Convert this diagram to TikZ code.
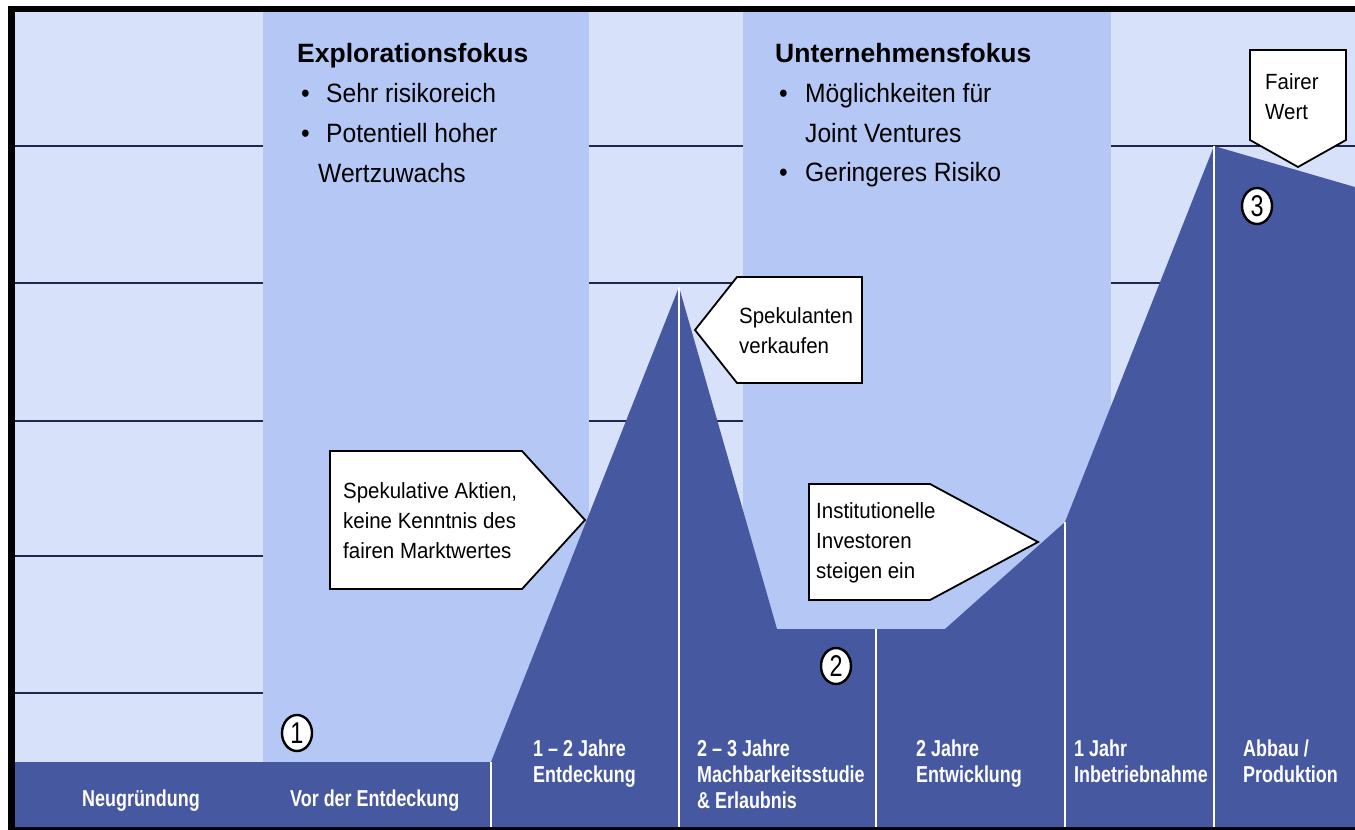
\documentclass[tikz,border=0pt]{standalone}
\usepackage{fontspec}
\setmainfont{Liberation Sans}
\newfontfamily\narrowfont[FakeStretch=0.78]{Liberation Sans}
\newfontfamily\slimfont[FakeStretch=0.93]{Liberation Sans}
\usetikzlibrary{shapes.geometric}
\definecolor{paleblue}{HTML}{D7E1FA}
\definecolor{focusblue}{HTML}{B4C7F5}
\definecolor{hillblue}{HTML}{4658A0}
\definecolor{gridnavy}{HTML}{22264A}

\begin{document}
\begin{tikzpicture}[x=1pt,y=-1pt,
 head/.style={anchor=base west,inner sep=0pt,font=\fontsize{26.5}{30}\selectfont\bfseries},
 bullet/.style={anchor=base west,inner sep=0pt,font=\slimfont\fontsize{26.5}{30}\selectfont},
 phase/.style={anchor=base west,inner sep=0pt,text=white,font=\narrowfont\fontsize{23}{26}\selectfont\bfseries},
 callout/.style={draw=black,line width=1.8pt,fill=white,line join=miter},
 calltext/.style={anchor=west,align=left,inner sep=0pt,font=\slimfont\fontsize{22}{30}\selectfont},
 marker/.style={ellipse,draw=black,line width=2.4pt,fill=white,inner sep=0pt,
   minimum width=30pt,minimum height=36pt,font=\narrowfont\fontsize{30}{30}\selectfont}]
\useasboundingbox (0,0) rectangle (1355,830);
% frame, grid and focus columns
\fill[black] (8,6) rectangle (1365,831);
\fill[paleblue] (15,12) rectangle (1365,827);
\foreach \y in {146,283,421,556,693}
 \draw[gridnavy,line width=2.2pt] (15,\y) -- (1365,\y);
\fill[focusblue] (263,12) rectangle (589,762);
\fill[focusblue] (743,12) rectangle (1111,629);
% value curve
\fill[hillblue] (15,762) -- (491,762) -- (679,287) -- (777,629) -- (945,629)
 -- (1065,522) -- (1214,146) -- (1365,190) -- (1365,827) -- (15,827) -- cycle;
\foreach \x/\y in {491/762,679/287,876/629,1065/522,1214/146}
 \draw[white,line width=1.8pt] (\x,\y) -- (\x,827);

\node[head] (expl-head) at (297,62) {Explorationsfokus};
\node[bullet] (expl-a) at (301,102) {\makebox[25pt][l]{•}Sehr risikoreich};
\node[bullet] (expl-b) at (301,142) {\makebox[25pt][l]{•}Potentiell hoher};
\node[bullet] (expl-c) at (318,182) {Wertzuwachs};
\node[head] (firm-head) at (775,62) {Unternehmensfokus};
\node[bullet] (firm-a) at (779,102) {\makebox[26pt][l]{•}Möglichkeiten für};
\node[bullet] (firm-b) at (805,142) {Joint Ventures};
\node[bullet] (firm-c) at (779,181) {\makebox[26pt][l]{•}Geringeres Risiko};

% callouts
\draw[callout] (330,451) -- (522,451) -- (585,520) -- (522,589) -- (330,589) -- cycle;
\node[calltext] (spec-text) at (343,521) {Spekulative Aktien,\\keine Kenntnis des\\fairen Marktwertes};
\draw[callout] (695,330) -- (737,277) -- (862,277) -- (862,383) -- (737,383) -- cycle;
\node[calltext] (sell-text) at (739,331) {Spekulanten\\verkaufen};
\draw[callout] (809,484) -- (930,484) -- (1038,542) -- (930,600) -- (809,600) -- cycle;
\node[calltext] (inst-text) at (816,543) {Institutionelle\\Investoren\\steigen ein};
\draw[callout] (1250,50) -- (1346,50) -- (1346,140) -- (1298,167) -- (1250,140) -- cycle;
\node[calltext] (fair-text) at (1265,97) {Fairer\\Wert};

\node[marker] (mark-1) at (297,733) {1};
\node[marker] (mark-2) at (836,666) {2};
\node[marker] (mark-3) at (1257,206) {3};

% phases
\node[phase] (ph-start) at (82,806) {Neugründung};
\node[phase] (ph-pre) at (290,806) {Vor der Entdeckung};
\foreach \x/\a/\b [count=\i] in {533/{1 – 2 Jahre}/Entdeckung,916/{2 Jahre}/Entwicklung,
  1074/{1 Jahr}/Inbetriebnahme,1243/{Abbau /}/Produktion}{
 \node[phase] (ph-\i-a) at (\x,756) {\a};
 \node[phase] (ph-\i-b) at (\x,782) {\b};
}
\node[phase] (ph-feas-a) at (697,756) {2 – 3 Jahre};
\node[phase] (ph-feas-b) at (697,782) {Machbarkeitsstudie};
\node[phase] (ph-feas-c) at (697,808) {\& Erlaubnis};
\end{tikzpicture}
\end{document}
